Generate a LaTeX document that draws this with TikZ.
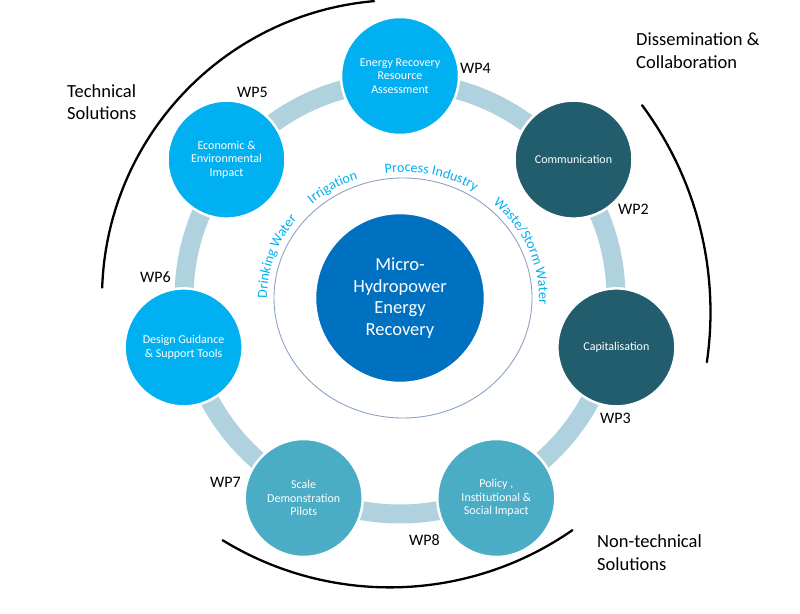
\documentclass[tikz,border=0pt]{standalone}
\usepackage{fontspec}
\setmainfont{Carlito}
\usetikzlibrary{decorations.text}
\definecolor{wpcyan}{HTML}{00B0F0}
\definecolor{wpdark}{HTML}{215D6D}
\definecolor{wpteal}{HTML}{4BACC6}
\definecolor{wpcore}{HTML}{0070C0}
\definecolor{wpband}{HTML}{AFD2DE}
\definecolor{wpthin}{HTML}{8EA2C6}
\begin{document}
\begin{tikzpicture}[x=1pt,y=1pt,
  wpnode/.style={circle, minimum size=118pt, inner sep=0pt, draw=white, line width=2.5pt,
    text=white, align=center, font=\fontsize{12}{13.5}\selectfont},
  corenode/.style={circle, minimum size=170pt, inner sep=0pt, draw=white, line width=2.5pt,
    fill=wpcore, text=white, align=center, font=\fontsize{18.5}{21.5}\selectfont},
  wplabel/.style={anchor=base west, font=\fontsize{16}{19}\selectfont, text=black, inner sep=0pt},
  grouplabel/.style={anchor=base west, align=left, font=\fontsize{18.5}{22.5}\selectfont, inner sep=0pt},
  grouparc/.style={line width=2.3pt, line cap=round, black},
  bandring/.style={draw=wpband, line width=19pt},
  thinring/.style={draw=wpthin, line width=0.9pt},
  flowtext/.style={decorate, decoration={text along path, text align=center,
    text color=wpcyan, text={|\fontsize{14}{16}\selectfont|#1}}}
]
\useasboundingbox (0,0) rectangle (800,613);
\fill[white] (0,0) rectangle (800,613);

% outer group arcs
\draw[grouparc] (400,315) ++(95:298) arc[start angle=95, end angle=178, radius=298];
\draw[grouparc] (363.5,300.9) ++(36.6:347) arc[start angle=36.6, end angle=-8.3, radius=347];
\draw[grouparc] (389.8,345.6) ++(-121.5:320) arc[start angle=-121.5, end angle=-55.2, radius=320];

% ring band
\draw[bandring] (400,315) circle[radius=216];

% thin inner ring
\draw[thinring] (403,315) ellipse[x radius=129, y radius=120];

% core
\node[corenode] (core) at (400,315) {Micro-\\Hydropower\\Energy\\Recovery};

% work package nodes
\node[wpnode, fill=wpcyan] (wp4) at (400,537) {Energy Recovery\\Resource\\Assessment};
\node[wpnode, fill=wpdark] (wp2) at (573.5,453.4) {Communication};
\node[wpnode, fill=wpdark] (wp3) at (616.4,265.6) {Capitalisation};
\node[wpnode, fill=wpteal] (wp8) at (496.3,115) {Policy ,\\Institutional \&\\Social Impact};
\node[wpnode, fill=wpteal] (wp7) at (303.7,115) {Scale\\Demonstration\\Pilots};
\node[wpnode, fill=wpcyan] (wp6) at (183.6,265.6) {Design Guidance\\\& Support Tools};
\node[wpnode, fill=wpcyan] (wp5) at (226.5,453.4) {Economic \&\\Environmental\\Impact};

% WP labels
\node[wplabel] (l4) at (460,539) {WP4};
\node[wplabel] (l5) at (237,515) {WP5};
\node[wplabel] (l2) at (618,398) {WP2};
\node[wplabel] (l6) at (140,330) {WP6};
\node[wplabel] (l3) at (600,189) {WP3};
\node[wplabel] (l7) at (210,125) {WP7};
\node[wplabel] (l8) at (409,67) {WP8};

% group labels (base = baseline of last line)
\node[grouplabel] (gtech) at (67,493) {Technical\\Solutions};
\node[grouplabel] (gdiss) at (636,544.7) {Dissemination \&\\Collaboration};
\node[grouplabel] (gnon) at (597,43) {Non-technical\\Solutions};

% curved texts
\path[shift={(403,315)}, flowtext={Drinking Water}] (201:136 and 126) arc[start angle=201, end angle=121, x radius=136, y radius=126];
\path[shift={(403,315)}, flowtext={Irrigation}] (151:136 and 126) arc[start angle=151, end angle=91, x radius=136, y radius=126];
\path[shift={(403,315)}, flowtext={Process Industry}] (117.5:136 and 126) arc[start angle=117.5, end angle=37.5, x radius=136, y radius=126];
\path[shift={(403,315)}, flowtext={Waste/Storm Water}] (67.5:136 and 126) arc[start angle=67.5, end angle=-22.5, x radius=136, y radius=126];
\end{tikzpicture}
\end{document}
